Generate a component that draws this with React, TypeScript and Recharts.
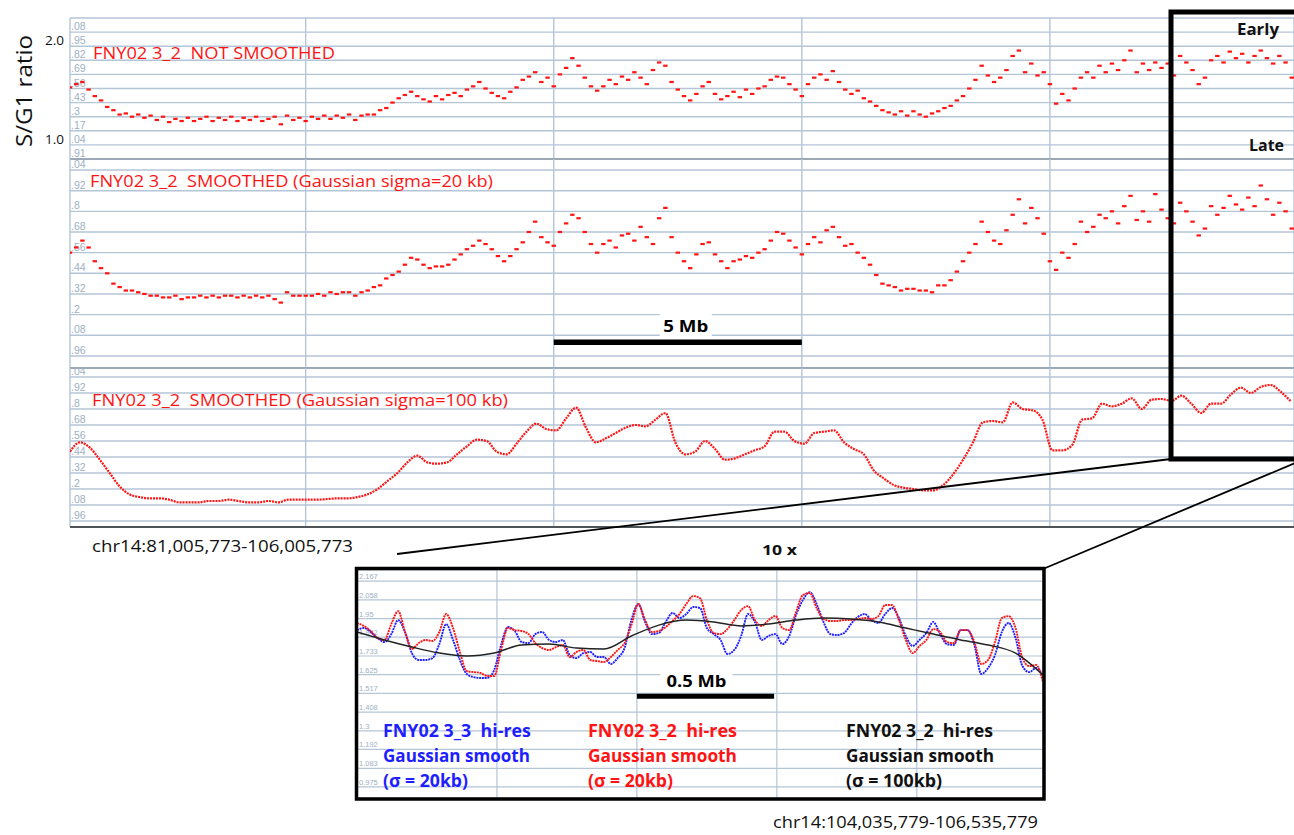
import React from "react";
import { LineChart, Line, XAxis, YAxis, CartesianGrid, ReferenceLine } from "recharts";

const RED = "#ff1414";
const BLUE = "#1e1eff";
const GRID = "#b4c5d6";
const TICK_FILL = "#9db0c4";
const SANS = "'Open Sans', 'Liberation Sans', sans-serif";

// chr14:81,005,773-106,005,773 — x is Mb from the window start
const wideDomainX = [0.25, 24.92];
const wideTicksX = [5, 10, 15, 20];
const binStart = 0.25;
const fineBinMb = 0.125;
const coarseBinMb = 0.2;

// S/G1 ratio, not smoothed
const rawRatio = [
  1.57, 1.6, 1.62, 1.55, 1.49, 1.45, 1.39, 1.36, 1.32, 1.33,
  1.3, 1.32, 1.29, 1.31, 1.27, 1.3, 1.25, 1.28, 1.26, 1.29,
  1.26, 1.28, 1.3, 1.26, 1.29, 1.27, 1.3, 1.26, 1.29, 1.27,
  1.3, 1.26, 1.28, 1.3, 1.23, 1.31, 1.27, 1.29, 1.26, 1.3,
  1.28, 1.31, 1.28, 1.31, 1.29, 1.32, 1.27, 1.31, 1.32, 1.32,
  1.36, 1.38, 1.43, 1.47, 1.5, 1.53, 1.49, 1.46, 1.44, 1.49,
  1.46, 1.5, 1.52, 1.49, 1.55, 1.58, 1.62, 1.56, 1.52, 1.49,
  1.47, 1.53, 1.57, 1.64, 1.67, 1.71, 1.62, 1.66, 1.58, 1.69,
  1.75, 1.84, 1.77, 1.66, 1.58, 1.54, 1.58, 1.64, 1.6, 1.67,
  1.64, 1.71, 1.66, 1.6, 1.73, 1.8, 1.77, 1.62, 1.55, 1.49,
  1.45, 1.51, 1.58, 1.62, 1.51, 1.46, 1.49, 1.53, 1.48, 1.55,
  1.51, 1.56, 1.58, 1.64, 1.67, 1.66, 1.6, 1.55, 1.49, 1.6,
  1.66, 1.69, 1.64, 1.72, 1.62, 1.55, 1.51, 1.54, 1.47, 1.44,
  1.4, 1.36, 1.34, 1.32, 1.35, 1.31, 1.35, 1.32, 1.3, 1.33,
  1.35, 1.38, 1.4, 1.45, 1.49, 1.56, 1.64, 1.77, 1.68, 1.62,
  1.66, 1.73, 1.86, 1.91, 1.71, 1.79, 1.68, 1.71, 1.6, 1.42,
  1.51, 1.45, 1.56, 1.66, 1.71, 1.66, 1.77, 1.71, 1.79, 1.73,
  1.82, 1.91, 1.71, 1.79, 1.73, 1.8, 1.75, 1.79, 1.68, 1.86,
  1.8, 1.73, 1.6, 1.66, 1.82, 1.86, 1.8, 1.9, 1.84, 1.88,
  1.8, 1.86, 1.91, 1.84, 1.79, 1.86, 1.8, 1.66,
];

// Gaussian sigma = 20 kb
const smoothed20kb = [
  1.56, 1.59, 1.63, 1.59, 1.51, 1.47, 1.44, 1.38, 1.36, 1.34,
  1.34, 1.33, 1.32, 1.31, 1.31, 1.3, 1.3, 1.31, 1.29, 1.3,
  1.3, 1.31, 1.3, 1.31, 1.3, 1.31, 1.31, 1.3, 1.31, 1.3,
  1.31, 1.3, 1.31, 1.29, 1.27, 1.33, 1.31, 1.31, 1.31, 1.31,
  1.32, 1.31, 1.33, 1.32, 1.33, 1.33, 1.31, 1.33, 1.34, 1.36,
  1.37, 1.41, 1.43, 1.45, 1.49, 1.53, 1.52, 1.49, 1.47, 1.48,
  1.48, 1.49, 1.52, 1.55, 1.58, 1.6, 1.63, 1.61, 1.58, 1.54,
  1.51, 1.54, 1.58, 1.62, 1.68, 1.74, 1.65, 1.62, 1.6, 1.68,
  1.73, 1.78, 1.76, 1.68, 1.61, 1.56, 1.61, 1.63, 1.59, 1.66,
  1.67, 1.63, 1.71, 1.65, 1.61, 1.76, 1.82, 1.65, 1.56, 1.51,
  1.47, 1.55, 1.61, 1.62, 1.55, 1.51, 1.47, 1.51, 1.52, 1.54,
  1.53, 1.56, 1.58, 1.63, 1.68, 1.67, 1.63, 1.59, 1.55, 1.61,
  1.65, 1.62, 1.69, 1.71, 1.65, 1.6, 1.61, 1.56, 1.53, 1.49,
  1.43, 1.38, 1.37, 1.36, 1.34, 1.35, 1.35, 1.34, 1.34, 1.33,
  1.37, 1.37, 1.4, 1.45, 1.51, 1.56, 1.61, 1.74, 1.68, 1.63,
  1.61, 1.69, 1.78, 1.87, 1.73, 1.82, 1.76, 1.67, 1.51, 1.46,
  1.56, 1.53, 1.61, 1.74, 1.68, 1.71, 1.78, 1.76, 1.8, 1.73,
  1.83, 1.89, 1.75, 1.8, 1.74, 1.9, 1.81, 1.76, 1.73, 1.85,
  1.8, 1.74, 1.66, 1.7, 1.83, 1.78, 1.82, 1.89, 1.84, 1.81,
  1.88, 1.83, 1.95, 1.87, 1.78, 1.85, 1.8, 1.7,
];

// Gaussian sigma = 100 kb
const smoothed100kb = [
  1.48, 1.55, 1.51, 1.42, 1.32, 1.22, 1.16, 1.14, 1.13, 1.13,
  1.12, 1.1, 1.1, 1.1, 1.11, 1.11, 1.12, 1.11, 1.1, 1.1,
  1.11, 1.1, 1.12, 1.12, 1.12, 1.12, 1.125, 1.13, 1.13, 1.14,
  1.16, 1.2, 1.26, 1.32, 1.4, 1.45, 1.4, 1.39, 1.4, 1.46,
  1.52, 1.57, 1.56, 1.48, 1.46, 1.54, 1.63, 1.69, 1.65, 1.64,
  1.73, 1.81, 1.66, 1.55, 1.58, 1.62, 1.66, 1.68, 1.67, 1.72,
  1.77, 1.55, 1.46, 1.48, 1.56, 1.5, 1.42, 1.43, 1.46, 1.49,
  1.52, 1.63, 1.63, 1.56, 1.54, 1.62, 1.63, 1.64, 1.55, 1.5,
  1.46, 1.34, 1.28, 1.23, 1.21, 1.2, 1.19, 1.19, 1.23, 1.31,
  1.42, 1.55, 1.7, 1.71, 1.7, 1.85, 1.8, 1.79, 1.72, 1.49,
  1.49, 1.53, 1.72, 1.73, 1.84, 1.82, 1.84, 1.88, 1.8, 1.87,
  1.875, 1.86, 1.9, 1.84, 1.77, 1.84, 1.84, 1.91, 1.96, 1.92,
  1.965, 1.98, 1.93, 1.86,
];

const rawTicks = [2.08, 1.95, 1.82, 1.69, 1.56, 1.43, 1.3, 1.17, 1.04, 0.91];
const smoothTicks = [2.04, 1.92, 1.8, 1.68, 1.56, 1.44, 1.32, 1.2, 1.08, 0.96];

// chr14:104,035,779-106,535,779 — x is Mb from the window start
const zoomDomainX = [0, 2.5];
const zoomTicksX = [0.51, 1.02, 1.53, 2.04];
const zoomBinMb = 0.025;
const broadBinEvery = 4;

// FNY02 3_3 hi-res, sigma = 20 kb
const hiRes33 = [
  1.883, 1.895, 1.872, 1.837, 1.814, 1.86, 1.941, 1.872, 1.75, 1.71,
  1.71, 1.721, 1.802, 1.918, 1.826, 1.71, 1.629, 1.611, 1.606, 1.606,
  1.652, 1.797, 1.901, 1.878, 1.814, 1.808, 1.86, 1.872, 1.826, 1.814,
  1.826, 1.739, 1.721, 1.75, 1.756, 1.727, 1.727, 1.687, 1.721, 1.779,
  1.941, 2.034, 1.93, 1.86, 1.866, 1.93, 1.982, 1.953, 1.976, 2.017,
  2.011, 1.895, 1.86, 1.826, 1.745, 1.768, 1.849, 1.976, 1.93, 1.826,
  1.849, 1.86, 1.802, 1.849, 1.97, 2.057, 2.103, 2.034, 1.93, 1.86,
  1.855, 1.866, 1.918, 1.959, 1.976, 1.941, 1.924, 1.976, 2.011, 1.953,
  1.849, 1.791, 1.826, 1.866, 1.93, 1.86, 1.802, 1.797, 1.883, 1.883,
  1.797, 1.629, 1.664, 1.739, 1.872, 1.924, 1.837, 1.675, 1.64, 1.664,
  1.617,
];

// FNY02 3_2 hi-res, sigma = 20 kb
const hiRes32 = [
  1.924, 1.907, 1.878, 1.837, 1.826, 1.918, 1.993, 1.872, 1.774, 1.808,
  1.826, 1.82, 1.872, 1.976, 1.895, 1.756, 1.646, 1.64, 1.635, 1.617,
  1.617, 1.768, 1.895, 1.883, 1.878, 1.86, 1.808, 1.779, 1.768, 1.785,
  1.797, 1.727, 1.756, 1.768, 1.71, 1.704, 1.698, 1.727, 1.768, 1.808,
  1.912, 2.034, 1.941, 1.872, 1.878, 1.901, 1.936, 1.976, 2.034, 2.08,
  2.068, 1.941, 1.866, 1.86, 1.889, 1.941, 1.999, 2.022, 1.941, 1.907,
  1.941, 1.965, 1.895, 1.883, 1.988, 2.086, 2.098, 2.011, 1.947, 1.936,
  1.936, 1.941, 1.941, 1.947, 1.953, 1.947, 1.964, 2.028, 2.028, 1.941,
  1.826, 1.75, 1.791, 1.826, 1.889, 1.872, 1.814, 1.808, 1.883, 1.883,
  1.814, 1.687, 1.71, 1.814, 1.953, 1.964, 1.895, 1.721, 1.675, 1.681,
  1.583,
];

// FNY02 3_2 hi-res, sigma = 100 kb (one value every 0.1 Mb)
const hiRes32Broad = [
  1.872, 1.826, 1.785, 1.75, 1.733, 1.75, 1.797, 1.802, 1.779, 1.774,
  1.849, 1.912, 1.941, 1.93, 1.907, 1.918, 1.941, 1.953, 1.947, 1.93,
  1.895, 1.86, 1.826, 1.797, 1.75, 1.623,
];

const zoomTicksY = [2.167, 2.058, 1.95, 1.842, 1.733, 1.625, 1.517, 1.408, 1.3, 1.192, 1.083, 0.975];

const binRows = (values: number[], start: number, step: number) =>
  values.map((y, i) => ({ x: +(start + i * step).toFixed(4), y }));

const rawRows = binRows(rawRatio, binStart, fineBinMb);
const s20Rows = binRows(smoothed20kb, binStart, fineBinMb);
const s100Rows = binRows(smoothed100kb, binStart, coarseBinMb);
const zoomRows = hiRes33.map((b, i) => ({
  x: +(i * zoomBinMb).toFixed(4),
  b,
  r: hiRes32[i],
  k: i % broadBinEvery === 0 ? hiRes32Broad[i / broadBinEvery] : null,
}));

// ".08", ".95", ".3" … — only the decimals are printed on the wide panels
const fracLabel = (v: number) => {
  const s = v.toFixed(2);
  let f = s.slice(s.indexOf("."));
  if (f.endsWith("0")) f = f.slice(0, -1);
  return f;
};

// value written just above its grid line, at the left edge of the plot
const GridValue = (props: any) => {
  const { viewBox, text, size, dx } = props;
  if (!viewBox) return null;
  return (
    <text x={viewBox.x + dx} y={viewBox.y - 2} fill={TICK_FILL} fontSize={size}
      fontFamily="'Liberation Sans', Arial, sans-serif">
      {text}
    </text>
  );
};

const Speck = (props: any) => {
  const { cx, cy, index } = props;
  if (cx == null || cy == null) return <g key={`s${index}`} />;
  return <rect key={`s${index}`} x={cx - 2.2} y={cy - 1.1} width={4.4} height={2.2} fill={RED} />;
};

const ScaleLabel = (props: any) => {
  const { viewBox, text, shift, lift, boxW, textLen } = props;
  if (!viewBox) return null;
  const cx = viewBox.x + (viewBox.width || 0) / 2 + shift;
  const by = viewBox.y - lift;
  return (
    <g>
      <rect x={cx - boxW / 2} y={by - 20} width={boxW} height={24} fill="#fff" />
      <text x={cx} y={by} textAnchor="middle" fontWeight={700} fontSize={16} fontFamily={SANS}
        textLength={textLen} lengthAdjust="spacingAndGlyphs">
        {text}
      </text>
    </g>
  );
};

type PanelProps = {
  top: number;
  height: number;
  domain: number[];
  ticks: number[];
  data: any[];
  children: React.ReactNode;
};

function WidePanel({ top, height, domain, ticks, data, children }: PanelProps) {
  return (
    <div style={{ position: "absolute", left: 0, top }}>
      <LineChart width={1294} height={height} data={data} margin={{ top: 0, right: 0, bottom: 0, left: 70 }}>
        <CartesianGrid stroke={GRID} strokeWidth={1.4} />
        <XAxis type="number" dataKey="x" domain={wideDomainX} ticks={wideTicksX} hide allowDataOverflow />
        <YAxis type="number" domain={domain} ticks={ticks} interval={0} hide allowDataOverflow />
        {ticks.map((t) => (
          <ReferenceLine key={t} y={t} stroke="none"
            label={<GridValue text={fracLabel(t)} size={10.5} dx={1} />} />
        ))}
        {children}
        <ReferenceLine y={domain[0]} stroke="#2a2a2a" strokeWidth={1.6} />
      </LineChart>
    </div>
  );
}

const T = (p: any) => {
  const { children, ...rest } = p;
  return (
    <text fontFamily={SANS} lengthAdjust="spacingAndGlyphs" style={{ whiteSpace: "pre" }} {...rest}>
      {children}
    </text>
  );
};

export default function App() {
  return (
    <div style={{ position: "absolute", left: 0, top: 0, width: 1294, height: 835, background: "#fff", overflow: "hidden" }}>
      <style>{".recharts-surface { overflow: visible; }"}</style>

      <WidePanel top={18} height={141} domain={[0.91, 2.21]} ticks={rawTicks} data={rawRows}>
        <Line dataKey="y" stroke="none" dot={Speck} activeDot={false} isAnimationActive={false} />
      </WidePanel>

      <WidePanel top={159} height={209} domain={[0.89, 2.104]} ticks={smoothTicks} data={s20Rows}>
        <Line dataKey="y" stroke="none" dot={Speck} activeDot={false} isAnimationActive={false} />
        <ReferenceLine segment={[{ x: 10, y: 1.04 }, { x: 15, y: 1.04 }]} stroke="#000" strokeWidth={5.5}
          label={<ScaleLabel text="5 Mb" shift={8} lift={10} boxW={52} textLen={45} />} />
      </WidePanel>

      <WidePanel top={368} height={159} domain={[0.915, 2.1075]} ticks={smoothTicks} data={s100Rows}>
        <Line dataKey="y" type="monotone" stroke={RED} strokeWidth={2.2} strokeDasharray="2 1"
          dot={false} activeDot={false} isAnimationActive={false} />
      </WidePanel>

      <div style={{ position: "absolute", left: 357, top: 570 }}>
        <LineChart width={686} height={228} data={zoomRows} margin={{ top: 0, right: 0, bottom: 0, left: 0 }}>
          <CartesianGrid stroke={GRID} strokeWidth={1.2} />
          <XAxis type="number" dataKey="x" domain={zoomDomainX} ticks={zoomTicksX} hide allowDataOverflow />
          <YAxis type="number" domain={[0.911, 2.231]} ticks={zoomTicksY} interval={0} hide allowDataOverflow />
          {zoomTicksY.map((t) => (
            <ReferenceLine key={t} y={t} stroke="none"
              label={<GridValue text={String(t)} size={7.5} dx={2} />} />
          ))}
          <ReferenceLine segment={[{ x: 1.02, y: 1.5 }, { x: 1.52, y: 1.5 }]} stroke="#000" strokeWidth={5}
            label={<ScaleLabel text="0.5 Mb" shift={-9} lift={9} boxW={72} textLen={60} />} />
          <Line dataKey="b" type="monotone" stroke={BLUE} strokeWidth={1.9} strokeDasharray="2 0.8"
            dot={false} activeDot={false} isAnimationActive={false} />
          <Line dataKey="r" type="monotone" stroke={RED} strokeWidth={1.9} strokeDasharray="2 0.8"
            dot={false} activeDot={false} isAnimationActive={false} />
          <Line dataKey="k" type="monotone" stroke="#222" strokeWidth={1.5} connectNulls
            dot={false} activeDot={false} isAnimationActive={false} />
        </LineChart>
      </div>

      <svg width={1294} height={835} style={{ position: "absolute", left: 0, top: 0, pointerEvents: "none" }}>
        <T transform="translate(32,91) rotate(-90)" textAnchor="middle" fontSize={22} textLength={112} fill="#111">S/G1 ratio</T>
        <T x={45} y={45} fontSize={13.5} fill="#111">2.0</T>
        <T x={45} y={144} fontSize={13.5} fill="#111">1.0</T>

        <T x={93} y={59} fontSize={17} fill={RED} textLength={242}>FNY02 3_2  NOT SMOOTHED</T>
        <T x={90} y={187} fontSize={17} fill={RED} textLength={403}>FNY02 3_2  SMOOTHED (Gaussian sigma=20 kb)</T>
        <T x={92} y={406} fontSize={17} fill={RED} textLength={416}>FNY02 3_2  SMOOTHED (Gaussian sigma=100 kb)</T>

        <T x={1237} y={35} fontSize={16} fontWeight={700} textLength={42} fill="#111">Early</T>
        <T x={1249} y={151} fontSize={16} fontWeight={700} textLength={35} fill="#111">Late</T>

        <rect x={1171} y={12} width={160} height={447} fill="none" stroke="#000" strokeWidth={5} />
        <line x1={397} y1={554} x2={1171} y2={459} stroke="#000" strokeWidth={1.8} />
        <line x1={1300} y1={461} x2={1043} y2={569} stroke="#000" strokeWidth={1.8} />

        <T x={762} y={555} fontSize={15} fontWeight={700} textLength={35} fill="#111">10 x</T>
        <T x={92} y={552} fontSize={17} textLength={261} fill="#111">chr14:81,005,773-106,005,773</T>
        <T x={773} y={828} fontSize={17} textLength={265} fill="#111">chr14:104,035,779-106,535,779</T>

        <rect x={356.5} y={568.5} width={687.5} height={230.5} fill="none" stroke="#000" strokeWidth={3.5} />

        <T x={383} y={737} fontSize={17} fontWeight={700} textLength={148} fill={BLUE}>FNY02 3_3  hi-res</T>
        <T x={383} y={762} fontSize={17} fontWeight={700} textLength={147} fill={BLUE}>Gaussian smooth</T>
        <T x={383} y={787} fontSize={17} fontWeight={700} textLength={85} fill={BLUE}>(σ = 20kb)</T>

        <T x={588} y={737} fontSize={17} fontWeight={700} textLength={149} fill={RED}>FNY02 3_2  hi-res</T>
        <T x={588} y={762} fontSize={17} fontWeight={700} textLength={149} fill={RED}>Gaussian smooth</T>
        <T x={588} y={787} fontSize={17} fontWeight={700} textLength={85} fill={RED}>(σ = 20kb)</T>

        <T x={846} y={737} fontSize={17} fontWeight={700} textLength={147} fill="#111">FNY02 3_2  hi-res</T>
        <T x={846} y={762} fontSize={17} fontWeight={700} textLength={148} fill="#111">Gaussian smooth</T>
        <T x={846} y={787} fontSize={17} fontWeight={700} textLength={96} fill="#111">(σ = 100kb)</T>
      </svg>
    </div>
  );
}
